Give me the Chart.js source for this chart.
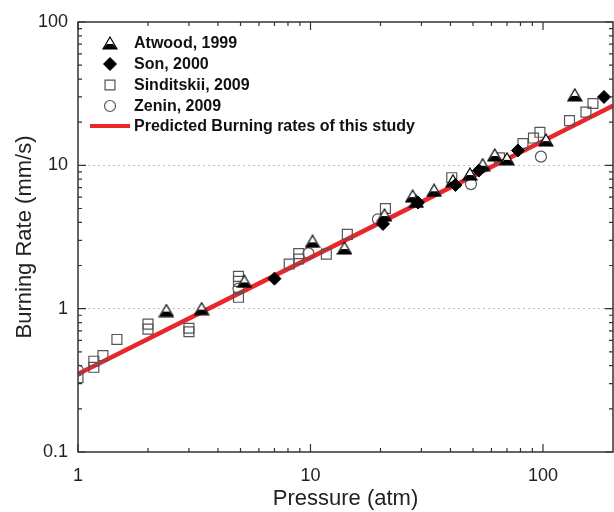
<!DOCTYPE html>
<html>
<head>
<meta charset="utf-8">
<script src="https://cdn.jsdelivr.net/npm/chart.js@4.4.0/dist/chart.umd.min.js"></script>
<style>
  body { margin: 0; background: #fff; }
</style>
</head>
<body>
<canvas id="myChart" width="614" height="512"></canvas>
<script>
// pressure (atm) / burning rate (mm/s)
const atwoodP    = [2.4, 3.4, 5.2, 10.2, 14, 20.8, 27.5, 28.5, 34, 41, 48.5, 55, 62, 70, 103, 137];
const atwoodRate = [0.97, 1.0, 1.55, 2.95, 2.65, 4.5, 6.1, 5.6, 6.7, 7.8, 8.7, 10.1, 11.8, 11.1, 15, 31];

const sonP    = [7, 20.5, 29, 42, 53, 78, 183];
const sonRate = [1.62, 3.9, 5.5, 7.3, 9.2, 12.7, 30];

const sindP    = [1, 1.17, 1.17, 1.28, 1.47, 2, 2, 3, 3, 4.9, 4.9, 4.9, 8.1, 8.9, 8.9, 11.7, 14.4, 21, 40.5, 65, 82, 91, 97, 130, 153, 164];
const sindRate = [0.33, 0.43, 0.39, 0.47, 0.61, 0.78, 0.72, 0.73, 0.69, 1.68, 1.55, 1.2, 2.05, 2.42, 2.22, 2.4, 3.3, 5.0, 8.2, 11.3, 14.2, 15.5, 17, 20.5, 23.5, 27];

const zeninP    = [1, 4.9, 9.8, 19.5, 49, 98];
const zeninRate = [0.37, 1.38, 2.43, 4.2, 7.4, 11.5];

const predP    = [1, 10, 100, 200];
const predRate = [0.35, 2.27, 14.8, 26];

const xTicks = [1, 10, 100];
const yTicks = [0.1, 1, 10, 100];
const xMinor = [2, 3, 4, 5, 6, 7, 8, 9, 20, 30, 40, 50, 60, 70, 80, 90];
const yMinor = [0.2, 0.3, 0.4, 0.5, 0.6, 0.7, 0.8, 0.9, 2, 3, 4, 5, 6, 7, 8, 9, 20, 30, 40, 50, 60, 70, 80, 90];

const FONT = '"Liberation Sans", Arial, sans-serif';

function toPoints(xs, ys) {
    return xs.map((x, i) => ({x: x, y: ys[i]}));
}

// open triangle with a black lower part, like the Atwood marker
function halfTriangle() {
    const c = document.createElement('canvas');
    c.width = 16; c.height = 14;
    const g = c.getContext('2d');
    g.beginPath(); g.moveTo(8, 1); g.lineTo(15, 13); g.lineTo(1, 13); g.closePath();
    g.fillStyle = '#fff'; g.fill();
    g.beginPath(); g.moveTo(5, 8); g.lineTo(11, 8); g.lineTo(15, 13); g.lineTo(1, 13); g.closePath();
    g.fillStyle = '#000'; g.fill();
    g.beginPath(); g.moveTo(8, 1); g.lineTo(15, 13); g.lineTo(1, 13); g.closePath();
    g.strokeStyle = '#000'; g.lineWidth = 1.2; g.stroke();
    return c;
}
const triImg = halfTriangle();

const datasets = [
    {
        label: 'Atwood, 1999',
        data: toPoints(atwoodP, atwoodRate),
        pointStyle: triImg,
        order: 1
    },
    {
        label: 'Son, 2000',
        data: toPoints(sonP, sonRate),
        pointStyle: 'rectRot',
        pointRadius: 6.5,
        backgroundColor: '#000',
        borderColor: '#000',
        borderWidth: 1,
        order: 0
    },
    {
        label: 'Sinditskii, 2009',
        data: toPoints(sindP, sindRate),
        pointStyle: 'rect',
        pointRadius: 7,
        backgroundColor: 'rgba(255,255,255,0)',
        borderColor: '#555',
        borderWidth: 1.2,
        order: 2
    },
    {
        label: 'Zenin, 2009',
        data: toPoints(zeninP, zeninRate),
        pointStyle: 'circle',
        pointRadius: 5.5,
        backgroundColor: 'rgba(255,255,255,0)',
        borderColor: '#555',
        borderWidth: 1.2,
        order: 3
    },
    {
        label: 'Predicted Burning rates of this study',
        data: toPoints(predP, predRate),
        showLine: true,
        pointRadius: 0,
        borderColor: '#e8262b',
        borderWidth: 4.5,
        order: 10
    }
];

// box with inward ticks on all four sides
const frameTicks = {
    id: 'frameTicks',
    afterDatasetsDraw(chart) {
        const ctx = chart.ctx;
        const a = chart.chartArea;
        const x = chart.scales.x, y = chart.scales.y;
        ctx.save();
        ctx.strokeStyle = '#333';
        ctx.lineWidth = 1.5;
        ctx.strokeRect(a.left, a.top, a.right - a.left, a.bottom - a.top);
        ctx.lineWidth = 1.2;
        ctx.beginPath();
        xTicks.concat(xMinor).forEach(v => {
            const px = x.getPixelForValue(v);
            const len = xTicks.includes(v) ? 8 : 4;
            ctx.moveTo(px, a.bottom); ctx.lineTo(px, a.bottom - len);
            ctx.moveTo(px, a.top); ctx.lineTo(px, a.top + len);
        });
        yTicks.concat(yMinor).forEach(v => {
            const py = y.getPixelForValue(v);
            const len = yTicks.includes(v) ? 8 : 4;
            ctx.moveTo(a.left, py); ctx.lineTo(a.left + len, py);
            ctx.moveTo(a.right, py); ctx.lineTo(a.right - len, py);
        });
        ctx.stroke();
        ctx.restore();
    }
};

// legend drawn inside the plot, top left
const insideLegend = {
    id: 'insideLegend',
    afterDraw(chart) {
        const ctx = chart.ctx;
        const rows = [43, 64, 85, 106, 126];
        ctx.save();
        ctx.font = 'bold 16px ' + FONT;
        ctx.textBaseline = 'middle';
        chart.data.datasets.forEach((ds, i) => {
            const yy = rows[i];
            if (ds.showLine) {
                ctx.strokeStyle = ds.borderColor;
                ctx.lineWidth = 4;
                ctx.beginPath(); ctx.moveTo(90, yy); ctx.lineTo(130, yy); ctx.stroke();
            } else if (typeof ds.pointStyle !== 'string') {
                ctx.drawImage(ds.pointStyle, 110 - ds.pointStyle.width / 2, yy - ds.pointStyle.height / 2);
            } else {
                ctx.fillStyle = ds.backgroundColor === '#000' ? '#000' : '#fff';
                ctx.strokeStyle = ds.borderColor;
                ctx.lineWidth = ds.borderWidth;
                Chart.helpers.drawPoint(ctx, {
                    pointStyle: ds.pointStyle,
                    radius: ds.pointRadius,
                    rotation: 0,
                    borderWidth: ds.borderWidth
                }, 110, yy);
            }
            ctx.fillStyle = '#111';
            ctx.fillText(ds.label, 134, yy + 1);
        });
        ctx.restore();
    }
};

const config = {
    type: 'scatter',
    data: { datasets: datasets },
    options: {
        responsive: false,
        animation: false,
        layout: { padding: { top: 22, right: 1, left: 0, bottom: 0 }, autoPadding: false },
        plugins: { legend: { display: false }, tooltip: { enabled: false } },
        scales: {
            x: {
                type: 'logarithmic',
                min: 1,
                max: 200,
                afterBuildTicks: s => { s.ticks = xTicks.map(v => ({value: v})); },
                afterFit: s => { s.height = 60; },
                grid: { display: false },
                border: { display: false },
                ticks: {
                    padding: 5,
                    color: '#222',
                    font: { family: FONT, size: 18 },
                    maxRotation: 0,
                    callback: v => String(v)
                },
                title: {
                    display: true,
                    text: 'Pressure (atm)',
                    color: '#222',
                    font: { family: FONT, size: 22 },
                    padding: { top: 0, bottom: 0 }
                }
            },
            y: {
                type: 'logarithmic',
                min: 0.1,
                max: 100,
                afterBuildTicks: s => { s.ticks = yTicks.map(v => ({value: v})); },
                afterFit: s => { s.width = 78; },
                grid: {
                    drawTicks: false,
                    color: c => (c.tick && (c.tick.value === 1 || c.tick.value === 10)) ? '#bdbdbd' : 'rgba(0,0,0,0)',
                    lineWidth: 1
                },
                border: { display: false, dash: [2, 3] },
                ticks: {
                    padding: 10,
                    color: '#222',
                    font: { family: FONT, size: 18 },
                    callback: v => String(v)
                },
                title: {
                    display: true,
                    text: 'Burning Rate (mm/s)',
                    color: '#222',
                    font: { family: FONT, size: 22 },
                    padding: { top: 12, bottom: 0 }
                }
            }
        }
    },
    plugins: [frameTicks, insideLegend]
};

var myChart = new Chart(
    document.getElementById('myChart'),
    config
);
</script>
</body>
</html>
